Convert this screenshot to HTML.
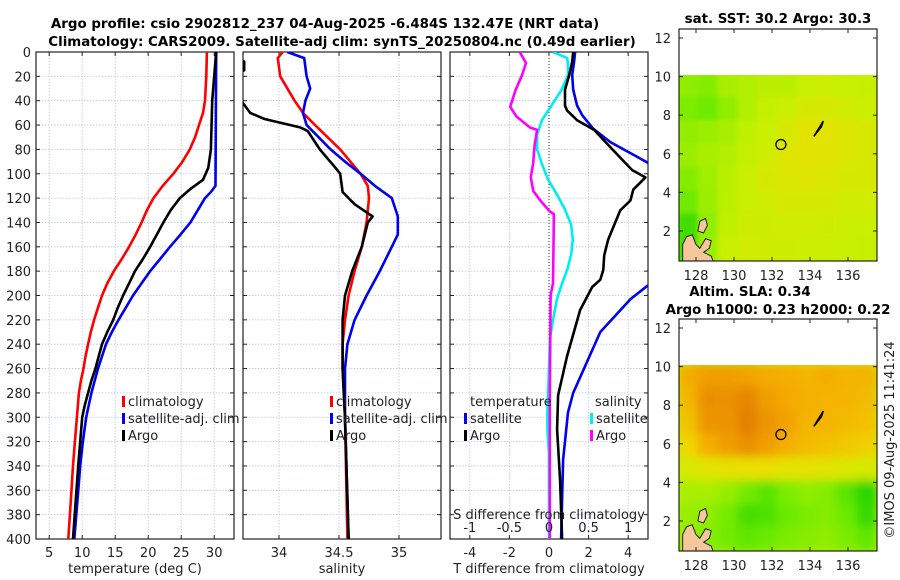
<!DOCTYPE html>
<html><head><meta charset="utf-8"><style>
html,body{margin:0;padding:0;background:#fff;}
svg{display:block;font-family:"DejaVu Sans","Liberation Sans",sans-serif;}
</style></head><body>
<svg id="fig" width="900" height="580" viewBox="0 0 900 580" xmlns="http://www.w3.org/2000/svg">
<defs>
<clipPath id="c1"><rect x="36" y="52" width="198" height="487"/></clipPath>
<clipPath id="c2"><rect x="243" y="52" width="198" height="487"/></clipPath>
<clipPath id="c3"><rect x="450" y="52" width="198" height="487"/></clipPath>
<clipPath id="m1"><rect x="679" y="75" width="198" height="186"/></clipPath>
<clipPath id="m2"><rect x="679" y="365" width="198" height="186"/></clipPath>
<filter id="blur" x="-5%" y="-5%" width="110%" height="110%"><feGaussianBlur stdDeviation="5"/></filter>
<filter id="blur2" x="-5%" y="-5%" width="110%" height="110%"><feGaussianBlur stdDeviation="2"/></filter>
</defs>
<g font-weight="bold" font-size="13.4" text-anchor="middle" fill="#000">
<text x="325" y="28">Argo profile: csio 2902812_237 04-Aug-2025 -6.484S 132.47E (NRT data)</text>
<text x="342" y="46">Climatology: CARS2009. Satellite-adj clim: synTS_20250804.nc (0.49d earlier)</text>
<text x="778" y="23">sat. SST: 30.2 Argo: 30.3</text>
<text x="750" y="296">Altim. SLA: 0.34</text>
<text x="778" y="314">Argo h1000: 0.23 h2000: 0.22</text>
</g>
<text x="0" y="0" transform="translate(894,440) rotate(-90)" font-size="13" text-anchor="middle" fill="#222">©IMOS 09-Aug-2025 11:41:24</text>
<g id="root"></g>
</svg>
<script>
// ---------- profile data (depth in m) ----------
const tDepth   = [0,20,40,50,60,70,80,90,100,110,120,130,140,150,160,170,180,190,200,210,220,230,240,250,260,270,280,290,300,320,340,370,400];
const tClim    = [28.9,28.8,28.6,28.3,27.7,27.1,26.3,25.2,23.8,22.2,20.8,19.8,19.0,18.1,17.1,16.0,14.8,13.8,13.0,12.4,11.8,11.3,10.9,10.5,10.2,9.8,9.5,9.35,9.2,8.9,8.6,8.25,7.9];
const tArgoD   = [0,40,80,95,105,112,120,130,140,150,160,170,180,190,200,210,220,230,240,250,260,270,280,290,300,320,340,370,400];
const tArgo    = [30.3,29.7,29.5,29.1,28.3,26.5,24.8,23.4,22.3,21.3,20.3,19.2,18.0,17.1,16.2,15.4,14.7,13.8,13.0,12.5,12.0,11.4,10.9,10.4,10.0,9.7,9.4,9.0,8.6];
const tSatD    = [0,110,115,120,130,140,150,160,170,180,190,200,210,220,230,240,250,260,270,280,290,300,320,340,370,400];
const tSat     = [30.3,30.2,29.5,28.6,27.5,26.4,24.9,23.3,21.8,20.3,19.0,17.7,16.6,15.5,14.5,13.6,13.0,12.4,11.9,11.4,11.0,10.6,10.1,9.7,9.25,8.8];

const sClimD   = [0,5,20,40,50,60,80,100,110,120,140,160,180,200,220,240,260,300,400];
const sClim    = [34.03,33.99,34.01,34.13,34.20,34.30,34.51,34.68,34.74,34.75,34.73,34.69,34.63,34.58,34.55,34.53,34.53,34.55,34.57];
const sSatD    = [0,5,20,30,40,50,60,70,80,90,100,110,120,135,150,160,180,200,220,240,260,300,400];
const sSat     = [34.07,34.21,34.23,34.26,34.22,34.20,34.23,34.33,34.43,34.55,34.68,34.80,34.94,34.99,34.99,34.94,34.84,34.73,34.63,34.57,34.55,34.55,34.58];
const sArgoD   = [0,8,15,22,42,50,55,62,65,80,95,100,115,125,135,140,160,180,200,220,260,300,400];
const sArgo    = [33.55,33.71,33.71,33.55,33.70,33.76,33.88,34.18,34.24,34.34,34.47,34.51,34.53,34.63,34.78,34.74,34.69,34.61,34.55,34.53,34.53,34.55,34.58];

const dTArgoD  = [0,8,19,31,44,48,56,64,80,97,103,113,122,130,140,154,167,179,187,193,212,250,282,310,352,400];
const dTArgo   = [1.22,1.17,1.02,0.81,0.81,0.91,1.42,2.28,3.2,4.2,4.87,4.26,4.11,3.6,3.35,2.99,2.79,2.74,2.59,2.18,1.57,0.91,0.46,0.41,0.56,0.66];
const dTSatD   = [0,8,19,31,44,52,63,74,83,91,130,190,192,203,230,280,296,335,400];
const dTSat    = [1.32,1.27,1.17,1.22,1.42,1.68,2.23,3.10,4.11,5.0,7.0,7.0,4.97,4.11,2.59,1.22,0.96,0.71,0.61];
const dSArgoD  = [0,9,19,31,45,53,62,64,76,91,103,114,122,131,133,140,190,200,286,400];
const dSArgo   = [-0.37,-0.29,-0.34,-0.42,-0.49,-0.41,-0.24,-0.15,-0.18,-0.20,-0.23,-0.20,-0.11,0.01,0.06,0.06,0.05,0.02,0.01,0.01];
const dSSatD   = [0,5,11,19,31,43,56,68,80,92,105,117,129,142,154,166,179,191,203,220,236,260,295,310,330,400];
const dSSat    = [0.05,0.23,0.24,0.24,0.16,0.04,-0.09,-0.15,-0.15,-0.09,-0.01,0.10,0.20,0.28,0.30,0.28,0.23,0.16,0.10,0.05,0.01,0.0,-0.02,-0.02,0.0,0.0];

// ---------- map data (rows lat 10 -> 0.5, cols lon 127.3 -> 137.6) ----------
const sstRows = [
 [0.32,0.30,0.38,0.40,0.42,0.42,0.45,0.46,0.45,0.44],
 [0.28,0.25,0.33,0.40,0.44,0.46,0.50,0.50,0.48,0.46],
 [0.33,0.35,0.38,0.43,0.46,0.50,0.55,0.55,0.52,0.50],
 [0.35,0.38,0.40,0.44,0.48,0.53,0.55,0.54,0.52,0.50],
 [0.30,0.36,0.42,0.45,0.50,0.52,0.53,0.52,0.50,0.50],
 [0.25,0.35,0.42,0.46,0.48,0.50,0.50,0.50,0.48,0.48],
 [0.15,0.33,0.43,0.47,0.47,0.48,0.48,0.47,0.46,0.45],
 [0.15,0.35,0.45,0.48,0.47,0.47,0.46,0.46,0.45,0.44]];
const slaRows = [
 [0.75,0.80,0.80,0.78,0.75,0.74,0.72,0.74,0.72,0.72],
 [0.72,0.86,0.85,0.90,0.80,0.76,0.73,0.72,0.72,0.70],
 [0.68,0.84,0.84,0.92,0.84,0.78,0.72,0.72,0.70,0.68],
 [0.62,0.74,0.80,0.86,0.80,0.74,0.70,0.68,0.66,0.64],
 [0.50,0.55,0.56,0.58,0.58,0.55,0.56,0.54,0.52,0.50],
 [0.38,0.38,0.34,0.26,0.20,0.28,0.32,0.30,0.20,0.10],
 [0.34,0.32,0.26,0.16,0.18,0.24,0.28,0.30,0.24,0.12],
 [0.32,0.30,0.26,0.22,0.24,0.28,0.30,0.32,0.28,0.22]];
const mapLatTicks = [2,4,6,8,10,12];
const mapLonTicks = [128,130,132,134,136];

const NS = 'http://www.w3.org/2000/svg';
const root = document.getElementById('root');
function el(tag, attrs, parent){
  const e = document.createElementNS(NS, tag);
  for (const k in attrs) e.setAttribute(k, attrs[k]);
  (parent||root).appendChild(e);
  return e;
}
const Y0=52, Y1=539;
const yD = d => Y0 + d*(Y1-Y0)/400;
function xs(x0,x1,lo,hi){ return v => x0 + (v-lo)*(x1-x0)/(hi-lo); }

function panel(name, x0, x1, lo, hi, ticks, labels, xlabel, clip, showY){
  const g = el('g', {});
  
  
  const sx = xs(x0,x1,lo,hi);
  for (let d=20; d<400; d+=20){
    el('line',{x1:x0,x2:x1,y1:yD(d),y2:yD(d),stroke:'#b8c4e4','stroke-width':0.8,'stroke-dasharray':'1.5,1.5'},g);
  }
  ticks.forEach(t=>{
    el('line',{x1:sx(t),x2:sx(t),y1:Y0,y2:Y1,stroke:'#b8c4e4','stroke-width':0.8,'stroke-dasharray':'1.5,1.5'},g);
  });
  for (let d=0; d<=400; d+=20){
    el('line',{x1:x0,x2:x0+4,y1:yD(d),y2:yD(d),stroke:'#222'},g);
    el('line',{x1:x1-4,x2:x1,y1:yD(d),y2:yD(d),stroke:'#222'},g);
    if (showY){
      const t = el('text',{x:31,y:yD(d)+5,'font-size':13,'text-anchor':'end',fill:'#222'},g);
      t.textContent = d;
      
      
    }
  }
  ticks.forEach((t,i)=>{
    el('line',{x1:sx(t),x2:sx(t),y1:Y1-4,y2:Y1,stroke:'#222'},g);
    el('line',{x1:sx(t),x2:sx(t),y1:Y0,y2:Y0+4,stroke:'#222'},g);
    const tx = el('text',{x:sx(t),y:557,'font-size':13,'text-anchor':'middle',fill:'#222'},g);
    tx.textContent = labels[i];
    
    
  });
  const xl = el('text',{x:(x0+x1)/2,y:573,'font-size':13,'text-anchor':'middle',fill:'#222'},g);
  xl.textContent = xlabel;
  
  
  const box = el('rect',{x:x0,y:Y0,width:x1-x0,height:Y1-Y0,fill:'none',stroke:'#222','stroke-width':1.2},g);
  
  
  return {g, sx};
}
function series(p, clip, depths, vals, sx, color, name){
  const pts = depths.map((d,i)=> sx(vals[i]).toFixed(1)+','+yD(d).toFixed(1)).join(' ');
  const pl = el('polyline',{points:pts,fill:'none',stroke:color,'stroke-width':2.6,'stroke-linejoin':'round','clip-path':'url(#'+clip+')'},p.g);
  
  
}
function legendRow(g, x, y, color, label){
  if (color){
    const m = el('rect',{x:x,y:y-10,width:3,height:11,fill:color},g);
    
    
  }
  const t = el('text',{x:x+(color?6:0),y:y,'font-size':13,fill:'#222'},g);
  t.textContent = label;
  
  
}

const p1 = panel('temperature-panel',36,234,3,33,[5,10,15,20,25,30],['5','10','15','20','25','30'],'temperature (deg C)','c1',true);
series(p1,'c1',tDepth,tClim,p1.sx,'#ff0000','temp-climatology-line');
series(p1,'c1',tSatD,tSat,p1.sx,'#0000ee','temp-satellite-line');
series(p1,'c1',tArgoD,tArgo,p1.sx,'#000000','temp-argo-line');
legendRow(p1.g,122,406,'#ff0000','climatology');
legendRow(p1.g,122,423,'#0000ee','satellite-adj. clim');
legendRow(p1.g,122,440,'#000000','Argo');

const p2 = panel('salinity-panel',243,441,33.7,35.35,[34,34.5,35],['34','34.5','35'],'salinity','c2',false);
series(p2,'c2',sClimD,sClim,p2.sx,'#ff0000','sal-climatology-line');
series(p2,'c2',sSatD,sSat,p2.sx,'#0000ee','sal-satellite-line');
series(p2,'c2',sArgoD,sArgo,p2.sx,'#000000','sal-argo-line');
legendRow(p2.g,330,406,'#ff0000','climatology');
legendRow(p2.g,330,423,'#0000ee','satellite-adj. clim');
legendRow(p2.g,330,440,'#000000','Argo');

const p3 = panel('difference-panel',450,648,-5,5,[-4,-2,0,2,4],['-4','-2','0','2','4'],'T difference from climatology','c3',false);
const sxS = xs(450,648,-1.25,1.25);
const zl = el('line',{x1:sxS(0),x2:sxS(0),y1:Y0,y2:Y1,stroke:'#333','stroke-width':1,'stroke-dasharray':'1,2'},p3.g);


series(p3,'c3',dSSatD,dSSat,sxS,'#00eeee','sdiff-satellite-line');
series(p3,'c3',dSArgoD,dSArgo,sxS,'#ff00ff','sdiff-argo-line');
series(p3,'c3',dTSatD,dTSat,p3.sx,'#0000ee','tdiff-satellite-line');
series(p3,'c3',dTArgoD,dTArgo,p3.sx,'#000000','tdiff-argo-line');
const sTicks=[-1,-0.5,0,0.5,1], sLabels=['-1','-0.5','0','0.5','1'];
sTicks.forEach((t,i)=>{
  const tx = el('text',{x:sxS(t),y:532,'font-size':13,'text-anchor':'middle',fill:'#222'},p3.g);
  tx.textContent = sLabels[i];
  
  
});
const sl = el('text',{x:549,y:519,'font-size':13,'text-anchor':'middle',fill:'#222'},p3.g);
sl.textContent='S difference from climatology';


legendRow(p3.g,470,406,null,'temperature');
legendRow(p3.g,464,423,'#0000ee','satellite');
legendRow(p3.g,464,440,'#000000','Argo');
legendRow(p3.g,595,406,null,'salinity');
legendRow(p3.g,590,423,'#00eeee','satellite');
legendRow(p3.g,590,440,'#ff00ff','Argo');

const lonX = lon => 696 + (lon-128)*19;
function cmap(v){
  const stops=[[0,[0,200,0]],[0.25,[110,235,0]],[0.45,[200,240,0]],[0.6,[240,220,0]],[0.75,[245,170,0]],[1,[220,110,0]]];
  for (let i=1;i<stops.length;i++){
    if (v<=stops[i][0]){
      const a=stops[i-1],b=stops[i],f=(v-a[0])/(b[0]-a[0]);
      return 'rgb('+a[1].map((c,k)=>Math.round(c+(b[1][k]-c)*f)).join(',')+')';
    }
  }
  return 'rgb(220,110,0)';
}
function mapPanel(name, top, rows, clip, blurId){
  const g = el('g',{});
  
  
  const latY = lat => top + 9 + (12-lat)*19.3;
  const dataTop = latY(10.1), dataBot = top+232;
  const cg = el('g',{'clip-path':'url(#'+clip+')'},g);
  const bg = el('rect',{x:679,y:dataTop,width:198,height:dataBot-dataTop,fill:cmap(0.45)},cg);
  
  
  const bl = el('g',{filter:'url(#'+blurId+')'},cg);
  const nr=rows.length, nc=rows[0].length;
  const cw=(198)/nc, ch=(dataBot-dataTop)/nr;
  rows.forEach((r,i)=>r.forEach((v,j)=>{
    const c = el('rect',{x:679+j*cw-1,y:dataTop+i*ch-1,width:cw+2,height:ch+2,fill:cmap(v)},bl);
    
    
  }));
  const land = el('path',{d:`M${lonX(127.3)} ${dataBot} L${lonX(127.3)} ${latY(1.3)} L${lonX(127.5)} ${latY(1.7)} L${lonX(127.8)} ${latY(1.8)} L${lonX(128.0)} ${latY(1.3)} L${lonX(128.2)} ${latY(1.1)} L${lonX(128.5)} ${latY(1.6)} L${lonX(128.8)} ${latY(1.5)} L${lonX(128.7)} ${latY(1.1)} L${lonX(128.4)} ${latY(0.9)} L${lonX(128.8)} ${latY(0.7)} L${lonX(128.9)} ${dataBot} Z M${lonX(128.1)} ${latY(2.0)} L${lonX(128.2)} ${latY(2.5)} L${lonX(128.5)} ${latY(2.65)} L${lonX(128.6)} ${latY(2.3)} L${lonX(128.4)} ${latY(1.9)} Z`,fill:'#f6c79c',stroke:'#111','stroke-width':0.9},cg);
  
  
  const isl = el('path',{d:`M${lonX(134.2)} ${latY(6.9)} L${lonX(134.7)} ${latY(7.7)} L${lonX(134.6)} ${latY(7.4)} Z`,fill:'#000',stroke:'#000','stroke-width':1.5},cg);
  
  
  const circ = el('circle',{cx:lonX(132.47),cy:latY(6.48),r:5,fill:'none',stroke:'#000','stroke-width':1.3},g);
  
  
  mapLatTicks.forEach(t=>{
    el('line',{x1:679,x2:683,y1:latY(t),y2:latY(t),stroke:'#222'},g);
    el('line',{x1:873,x2:877,y1:latY(t),y2:latY(t),stroke:'#222'},g);
    const tx = el('text',{x:671,y:latY(t)+5,'font-size':13,'text-anchor':'end',fill:'#222'},g);
    tx.textContent=t;
    
    
  });
  mapLonTicks.forEach(t=>{
    el('line',{x1:lonX(t),x2:lonX(t),y1:top,y2:top+4,stroke:'#222'},g);
    el('line',{x1:lonX(t),x2:lonX(t),y1:top+228,y2:top+232,stroke:'#222'},g);
    const tx = el('text',{x:lonX(t),y:top+251,'font-size':13,'text-anchor':'middle',fill:'#222'},g);
    tx.textContent=t;
    
    
  });
  const box = el('rect',{x:679,y:top,width:198,height:232,fill:'none',stroke:'#222','stroke-width':1.2},g);
  
  
}
mapPanel('sst-map',29,sstRows,'m1','blur2');
mapPanel('sla-map',319,slaRows,'m2','blur');
</script>
</body></html>
